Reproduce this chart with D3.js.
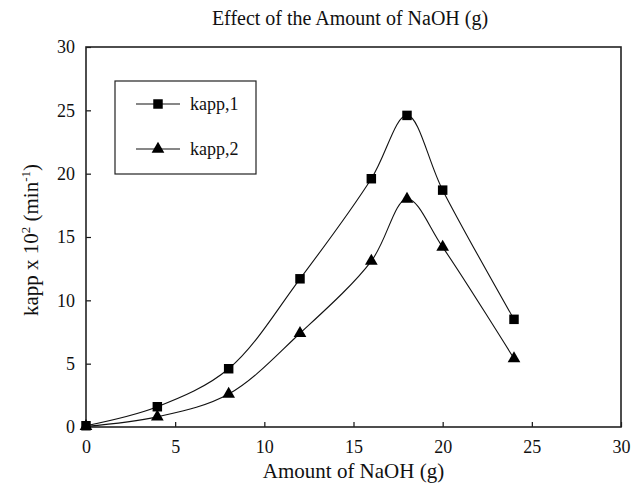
<!DOCTYPE html>
<html>
<head>
<meta charset="utf-8">
<script src="https://cdn.jsdelivr.net/npm/d3@7"></script>
<style>
	body { margin: 0; background: #fff; }
	svg text { font-family: "Liberation Serif", "Times New Roman", serif; fill: #111; }
</style>
</head>
<body>
<svg id="viz" width="636" height="485"></svg>
<script>

// data
const naoh = [0, 4, 8, 12, 16, 18, 20, 24];
const kapp1 = [0.1, 1.6, 4.6, 11.7, 19.6, 24.6, 18.7, 8.5];
const kapp2 = [0.05, 0.8, 2.6, 7.4, 13.1, 18.0, 14.2, 5.4];
const seriesNames = ["kapp,1", "kapp,2"];
const xTicks = [0, 5, 10, 15, 20, 25, 30];
const yTicks = [0, 5, 10, 15, 20, 25, 30];

const margin = {
	top:	47,
	right:	15,
	bottom:	58,
	left:	86
};

let svg = d3.select("svg#viz");
let width = +svg.attr("width");
let height = +svg.attr("height");
let plotWidth = width - margin.left - margin.right;
let plotHeight = height - margin.top - margin.bottom;

let xScale = d3.scaleLinear().domain([0, 30]).range([0, plotWidth]);
let yScale = d3.scaleLinear().domain([0, 30]).range([plotHeight, 0]);

let plot = svg.append("g")
	.attr("transform", `translate(${margin.left}, ${margin.top})`);

// title
svg.append("text")
	.attr("x", 350)
	.attr("y", 25)
	.attr("text-anchor", "middle")
	.style("font-size", "20px")
	.text("Effect of the Amount of NaOH (g)");

// axes, ticks point inward
let xAxis = d3.axisBottom(xScale).tickValues(xTicks).tickSizeInner(-5).tickSizeOuter(0).tickPadding(13);
let xGroup = plot.append("g").attr("transform", `translate(0, ${plotHeight})`).call(xAxis);

let yAxis = d3.axisLeft(yScale).tickValues(yTicks).tickSizeInner(-5).tickSizeOuter(0).tickPadding(11);
let yGroup = plot.append("g").call(yAxis);

[xGroup, yGroup].forEach(g => {
	g.select(".domain").remove();
	g.selectAll(".tick line").attr("stroke", "#111").attr("stroke-width", 1.2);
	g.selectAll(".tick text").style("font-size", "18px").attr("fill", "#111");
});

// frame
plot.append("rect")
	.attr("width", plotWidth)
	.attr("height", plotHeight)
	.attr("fill", "none")
	.attr("stroke", "#222")
	.attr("stroke-width", 1.6);

// axis titles
svg.append("text")
	.attr("x", margin.left + plotWidth / 2)
	.attr("y", 478)
	.attr("text-anchor", "middle")
	.style("font-size", "21px")
	.text("Amount of NaOH (g)");

let yTitle = svg.append("text")
	.attr("transform", `translate(38, ${margin.top + plotHeight / 2 + 3}) rotate(-90)`)
	.attr("text-anchor", "middle")
	.style("font-size", "21px");
yTitle.append("tspan").text("kapp x 10");
yTitle.append("tspan").attr("dy", -8).style("font-size", "13px").text("2");
yTitle.append("tspan").attr("dy", 8).text(" (min");
yTitle.append("tspan").attr("dy", -8).style("font-size", "13px").text("-1");
yTitle.append("tspan").attr("dy", 8).text(")");

// lines and markers
let line = d3.line()
	.x(d => xScale(d[0]))
	.y(d => yScale(d[1]))
	.curve(d3.curveCatmullRom.alpha(0.5));

let square = d3.symbol().type(d3.symbolSquare).size(90);
let triangle = d3.symbol().type(d3.symbolTriangle).size(70);
let symbols = [square, triangle];

[kapp1, kapp2].forEach((vals, i) => {
	let pts = naoh.map((x, j) => [x, vals[j]]);
	plot.append("path")
		.datum(pts)
		.attr("fill", "none")
		.attr("stroke", "#111")
		.attr("stroke-width", 1.1)
		.attr("d", line);
	plot.selectAll(null)
		.data(pts)
		.enter().append("path")
		.attr("transform", d => `translate(${xScale(d[0])}, ${yScale(d[1])})`)
		.attr("fill", "#000")
		.attr("d", symbols[i]);
});

// legend
let legend = svg.append("g");
legend.append("rect")
	.attr("x", 115)
	.attr("y", 81)
	.attr("width", 141)
	.attr("height", 93)
	.attr("fill", "#fff")
	.attr("stroke", "#222")
	.attr("stroke-width", 1.2);

seriesNames.forEach((name, i) => {
	let y = 104 + i * 45;
	legend.append("line")
		.attr("x1", 136).attr("x2", 180)
		.attr("y1", y).attr("y2", y)
		.attr("stroke", "#111").attr("stroke-width", 1.1);
	legend.append("path")
		.attr("transform", `translate(158, ${y})`)
		.attr("d", symbols[i]);
	legend.append("text")
		.attr("x", 190)
		.attr("y", y + 6)
		.style("font-size", "18px")
		.text(name);
});

</script>
</body>
</html>
